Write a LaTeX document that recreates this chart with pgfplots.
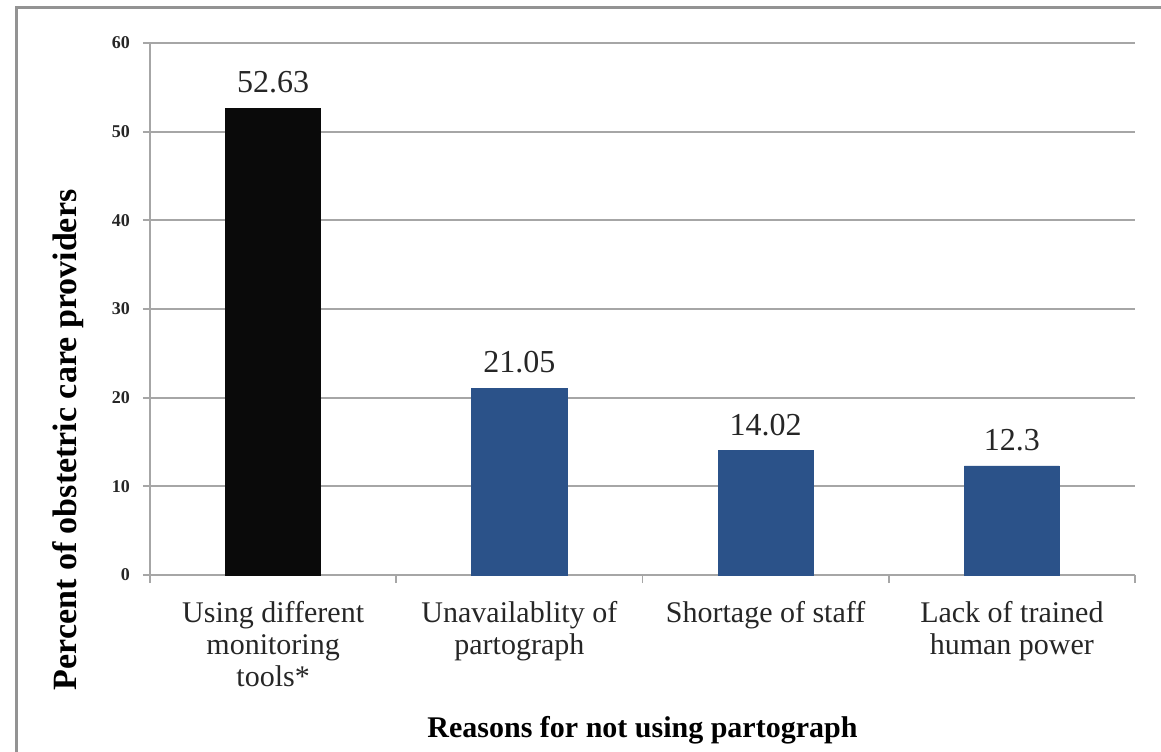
\documentclass[border=0pt]{standalone}
\usepackage{fontspec}
\setmainfont{Liberation Serif}
\usepackage{pgfplots}
\pgfplotsset{compat=1.18}
\definecolor{barblue}{HTML}{2B5289}
\definecolor{barblack}{HTML}{0A0A0A}
\definecolor{gridgray}{HTML}{A6A6A6}
\definecolor{txt}{HTML}{262626}
\begin{document}
\begin{tikzpicture}
\path[use as bounding box] (0,0) rectangle (580.5pt,-375.5pt);
\draw[color=gray!85, line width=1.5pt] (8pt,-376pt) -- (8pt,-3.5pt) -- (581pt,-3.5pt);
\begin{axis}[
  at={(75pt,-287.5pt)}, anchor=south west,
  scale only axis, width=492.5pt, height=266pt,
  xmin=-0.5, xmax=3.5, ymin=0, ymax=60,
  ytick={0,10,...,60},
  xtick={0,1,2,3},
  minor xtick={-0.5,0.5,1.5,2.5,3.5},
  xticklabels={{Using different\\monitoring\\tools*},{Unavailablity of\\partograph},{Shortage of staff},{Lack of trained\\human power}},
  ymajorgrids, grid style={gridgray, line width=0.9pt},
  axis x line=bottom, axis y line=left,
  axis line style={-, gridgray, line width=0.9pt},
  tick align=outside,
  major x tick style={draw=none},
  minor x tick style={gridgray, line width=0.9pt},
  minor tick length=4pt,
  ytick style={gridgray, line width=0.9pt},
  major tick length=3.5pt,
  /pgf/number format/assume math mode=true,
  yticklabel style={font=\bfseries\fontsize{9}{10}\selectfont, text=txt, xshift=-3pt},
  xticklabel style={align=center, font=\fontsize{15}{16}\selectfont, text=txt, anchor=north, yshift=-6pt},
  ylabel={Percent of obstetric care providers},
  ylabel style={at={(axis description cs:-0.083,0.254)}, anchor=center, rotate=0, font=\bfseries\fontsize{17}{20}\selectfont, text=black},
  xlabel={Reasons for not using partograph},
  xlabel style={at={(axis description cs:0.5,-0.291)}, anchor=center, font=\bfseries\fontsize{15}{18}\selectfont, text=black},
  ybar, bar width=0.386, bar shift=0pt,
  point meta=explicit symbolic,
  nodes near coords,
  nodes near coords style={font=\fontsize{16}{18}\selectfont, text=txt, anchor=south, yshift=4pt},
]
\addplot[fill=barblack, draw=barblack] coordinates {(0,52.63) [52.63]};
\addplot[fill=barblue, draw=barblue] coordinates {(1,21.05) [21.05] (2,14.02) [14.02] (3,12.3) [12.3]};
\end{axis}
\end{tikzpicture}
\end{document}
